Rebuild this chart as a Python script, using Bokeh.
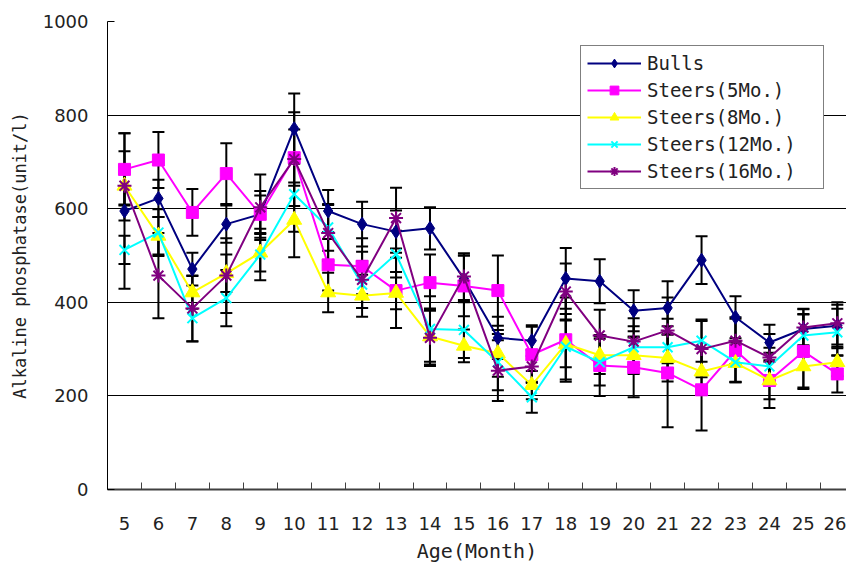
from bokeh.plotting import figure
from bokeh.models import (ColumnDataSource, Range1d, FixedTicker, Whisker, TeeHead,
                          Legend, LegendItem)
from bokeh.embed import file_html
from bokeh.resources import INLINE

months = list(range(5, 27))
tick_labels = [str(m) for m in months]

series_names = ["Bulls", "Steers(5Mo.)", "Steers(8Mo.)", "Steers(12Mo.)", "Steers(16Mo.)"]
bulls = [595, 622, 471, 567, 588, 771, 595, 567, 551, 558, 450, 324, 318, 451, 445, 382, 388, 490, 368, 314, 343, 350]
steers5 = [684, 704, 592, 675, 588, 709, 480, 477, 425, 442, 435, 425, 288, 320, 265, 261, 249, 213, 297, 233, 295, 247]
steers8 = [649, 542, 421, 462, 506, 576, 421, 414, 420, 327, 307, 291, 223, 311, 287, 287, 281, 252, 270, 233, 263, 272]
steers12 = [512, 549, 366, 409, 502, 631, 560, 438, 503, 343, 341, 272, 197, 305, 272, 304, 304, 318, 272, 263, 329, 336]
steers16 = [649, 457, 387, 457, 603, 706, 548, 448, 580, 324, 455, 254, 263, 423, 329, 316, 340, 300, 318, 282, 346, 355]

bulls_sd = [166, 40, 35, 40, 50, 75, 45, 48, 45, 45, 50, 45, 33, 65, 47, 44, 57, 51, 45, 38, 42, 45]
steers5_sd = [77, 60, 50, 65, 40, 60, 55, 60, 40, 60, 65, 75, 60, 90, 65, 64, 116, 87, 68, 59, 80, 40]
steers8_sd = [40, 40, 35, 40, 40, 80, 42, 45, 75, 60, 35, 50, 30, 50, 40, 40, 50, 50, 40, 40, 45, 30]
steers12_sd = [30, 50, 50, 60, 55, 80, 50, 50, 50, 70, 60, 60, 33, 70, 50, 45, 45, 45, 43, 40, 45, 50]
steers16_sd = [74, 91, 70, 80, 70, 100, 60, 60, 65, 60, 50, 65, 35, 60, 55, 50, 70, 60, 50, 50, 40, 45]

y_ticks = [0, 200, 400, 600, 800, 1000]

means = [bulls, steers5, steers8, steers12, steers16]
sds = [bulls_sd, steers5_sd, steers8_sd, steers12_sd, steers16_sd]
colors = ["#000080", "#FF00FF", "#FFFF00", "#00FFFF", "#800080"]
markers = ["diamond", "square", "triangle", "x", "asterisk"]
msizes = [14, 12, 15, 14, 14]

p = figure(width=846, height=565, output_backend="svg", toolbar_location=None,
           x_range=Range1d(4.5, 26.27), y_range=Range1d(0, 1000),
           min_border_left=107, min_border_right=0, min_border_top=21, min_border_bottom=74)
p.outline_line_color = None
p.background_fill_color = "white"
p.border_fill_color = "white"

# axes
p.xaxis.ticker = FixedTicker(ticks=months, minor_ticks=[m - 0.5 for m in months] + [26.5])
p.xaxis.major_label_overrides = {m: l for m, l in zip(months, tick_labels)}
p.xaxis.major_tick_line_color = None
p.xaxis.minor_tick_in = 7
p.xaxis.minor_tick_out = 0
p.xaxis.minor_tick_line_color = "#404040"
p.xaxis.axis_line_color = "#404040"
p.xaxis.axis_line_width = 2
p.xaxis.major_label_standoff = 21
p.xaxis.major_label_text_font = "DejaVu Sans"
p.xaxis.major_label_text_font_size = "18px"
p.xaxis.major_label_text_color = "#222222"
p.xaxis.axis_label = "Age(Month)"
p.xaxis.axis_label_standoff = 6
p.xaxis.axis_label_text_font = "DejaVu Sans Mono"
p.xaxis.axis_label_text_font_size = "20px"
p.xaxis.axis_label_text_font_style = "normal"
p.xaxis.axis_label_text_color = "#222222"

p.yaxis.ticker = FixedTicker(ticks=y_ticks)
p.yaxis.major_tick_in = 7
p.yaxis.major_tick_out = 0
p.yaxis.major_tick_line_color = "black"
p.yaxis.minor_tick_line_color = None
p.yaxis.axis_line_color = "black"
p.yaxis.major_label_standoff = 19
p.yaxis.major_label_text_font = "DejaVu Sans"
p.yaxis.major_label_text_font_size = "18px"
p.yaxis.major_label_text_color = "#222222"
p.yaxis.axis_label = "Alkaline phosphatase(unit/l)"
p.yaxis.axis_label_standoff = 10
p.yaxis.axis_label_text_font = "DejaVu Sans Mono"
p.yaxis.axis_label_text_font_size = "17px"
p.yaxis.axis_label_text_font_style = "normal"
p.yaxis.axis_label_text_color = "#222222"

p.xgrid.grid_line_color = None
p.ygrid.ticker = FixedTicker(ticks=y_ticks)
p.ygrid.grid_line_color = "black"
p.ygrid.grid_line_width = 1

# error bars
for m, s in zip(means, sds):
    src = ColumnDataSource(dict(x=months,
                                upper=[a + b for a, b in zip(m, s)],
                                lower=[a - b for a, b in zip(m, s)]))
    w = Whisker(source=src, base="x", upper="upper", lower="lower",
                line_color="black", line_width=2,
                upper_head=TeeHead(size=12, line_color="black", line_width=2),
                lower_head=TeeHead(size=12, line_color="black", line_width=2))
    p.add_layout(w)

items = []
for name, m, c, mk, ms in zip(series_names, means, colors, markers, msizes):
    src = ColumnDataSource(dict(x=months, y=m))
    ln = p.line("x", "y", source=src, line_color=c, line_width=2)
    if mk in ("x", "asterisk"):
        sc = p.scatter("x", "y", source=src, marker=mk, size=ms, line_color=c, line_width=2)
    else:
        sc = p.scatter("x", "y", source=src, marker=mk, size=ms, fill_color=c, line_color=c)
    items.append(LegendItem(label=name, renderers=[ln, sc]))

legend = Legend(items=items, location=(473, 300), orientation="vertical")
legend.border_line_color = "black"
legend.border_line_width = 1
legend.background_fill_color = "white"
legend.background_fill_alpha = 1
legend.padding = 6
legend.margin = 0
legend.spacing = 5
legend.glyph_width = 54
legend.glyph_height = 22
legend.label_height = 22
legend.label_standoff = 6
legend.label_width = 170
legend.label_text_font = "DejaVu Sans Mono"
legend.label_text_font_size = "19px"
legend.label_text_color = "#222222"
p.add_layout(legend, "center")

open("out.html", "w").write(file_html(p, INLINE))
